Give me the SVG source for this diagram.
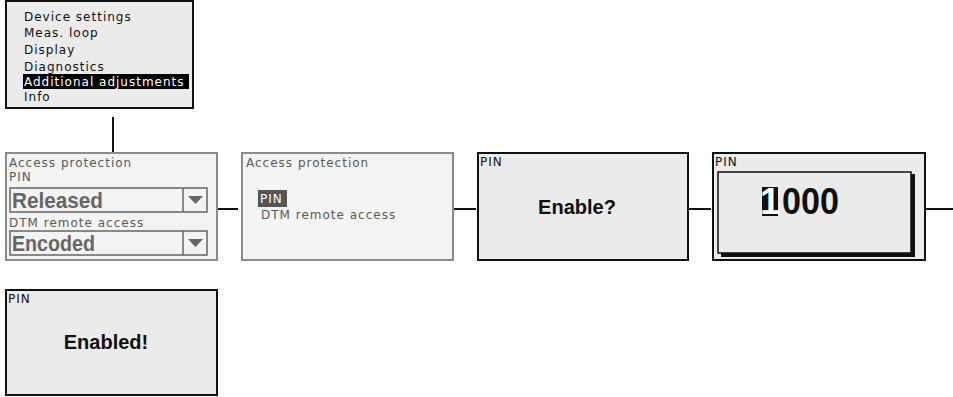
<svg xmlns="http://www.w3.org/2000/svg" width="953" height="397" viewBox="0 0 953 397">
<style>
.lcd{fill:#ebebeb;stroke:#111;stroke-width:2}
.lite{fill:#f3f3f3;stroke:#8c8c8c;stroke-width:2}
.t{font-family:"DejaVu Sans",sans-serif;font-size:12px;letter-spacing:1px;fill:#111}
.tg{font-family:"DejaVu Sans",sans-serif;font-size:12px;letter-spacing:1px;fill:#5a5a5a}
.big{font-family:"Liberation Sans",sans-serif;font-weight:bold;font-size:22px;fill:#666}
.msg{font-family:"Liberation Sans",sans-serif;font-weight:bold;font-size:20px;fill:#111}
.num{font-family:"Liberation Sans",sans-serif;font-weight:bold;font-size:36px}
.con{stroke:#111;stroke-width:2;fill:none}
</style>
<rect width="953" height="397" fill="#fff"/>
<g id="connectors">
<line class="con" x1="113" y1="117" x2="113" y2="153"/>
<line class="con" x1="217" y1="209" x2="238" y2="209"/>
<line class="con" x1="453" y1="209" x2="476" y2="209"/>
<line class="con" x1="688" y1="209" x2="711" y2="209"/>
<line class="con" x1="925" y1="209" x2="953" y2="209"/>
</g>
<g id="menu">
<rect class="lcd" x="6" y="1" width="187" height="107"/>
<text class="t" x="24" y="21">Device settings</text>
<text class="t" x="24" y="37">Meas. loop</text>
<text class="t" x="24" y="54">Display</text>
<text class="t" x="24" y="71">Diagnostics</text>
<rect x="23" y="74" width="166" height="15" fill="#000"/>
<text class="t" x="24" y="86" style="fill:#fff">Additional adjustments</text>
<text class="t" x="24" y="101">Info</text>
</g>
<g id="access1">
<rect class="lite" x="6" y="153" width="211" height="107"/>
<text class="tg" x="9" y="167">Access protection</text>
<text class="tg" x="9" y="181">PIN</text>
<rect x="10" y="188" width="197" height="24" fill="none" stroke="#666" stroke-width="1.5"/>
<line x1="183" y1="188" x2="183" y2="212" stroke="#666" stroke-width="1.5"/>
<polygon points="188,196 203,196 195.5,204" fill="#666"/>
<text class="big" x="12" y="208" textLength="91" lengthAdjust="spacingAndGlyphs">Released</text>
<text class="tg" x="9" y="227">DTM remote access</text>
<rect x="10" y="231" width="197" height="24" fill="none" stroke="#666" stroke-width="1.5"/>
<line x1="183" y1="231" x2="183" y2="255" stroke="#666" stroke-width="1.5"/>
<polygon points="188,239 203,239 195.5,247" fill="#666"/>
<text class="big" x="12" y="251" textLength="83" lengthAdjust="spacingAndGlyphs">Encoded</text>
</g>
<g id="access2">
<rect class="lite" x="242" y="153" width="211" height="107"/>
<text class="tg" x="246" y="167">Access protection</text>
<rect x="258" y="190" width="29" height="17" fill="#555"/>
<text class="tg" x="260" y="203" style="fill:#fff">PIN</text>
<text class="tg" x="261" y="219">DTM remote access</text>
</g>
<g id="enable">
<rect class="lcd" x="478" y="153" width="210" height="107"/>
<text class="t" x="480" y="166">PIN</text>
<text class="msg" x="577" y="214" text-anchor="middle">Enable?</text>
</g>
<g id="pinentry">
<rect class="lcd" x="713" y="153" width="212" height="107"/>
<text class="t" x="715" y="166">PIN</text>
<rect x="721" y="174" width="194" height="83" fill="#111"/>
<rect x="718" y="172" width="193" height="81" fill="#ebebeb" stroke="#111" stroke-width="1.5"/>
<rect x="762" y="187" width="16" height="29" fill="#111"/>
<text class="num" x="760" y="214" fill="#fff">1</text>
<text class="num" x="782" y="214" fill="#111" textLength="57" lengthAdjust="spacingAndGlyphs">000</text>
</g>
<g id="enabled">
<rect class="lcd" x="6" y="290" width="211" height="105"/>
<text class="t" x="8" y="303">PIN</text>
<text class="msg" x="106" y="349" text-anchor="middle">Enabled!</text>
</g>
</svg>
